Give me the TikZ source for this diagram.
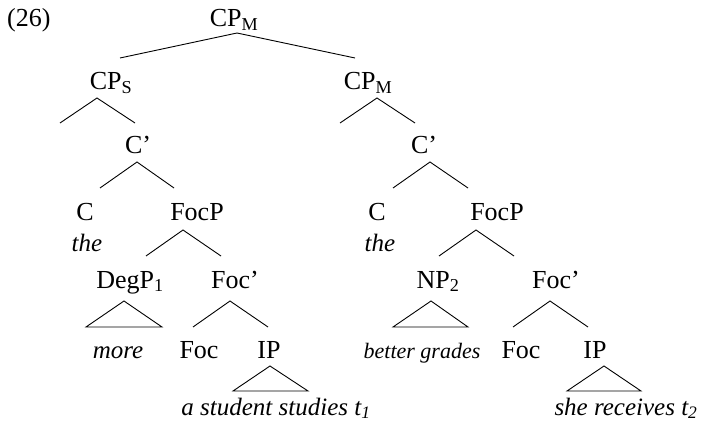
\documentclass[tikz,border=0pt]{standalone}
\usepackage{fontspec}
\setmainfont{Liberation Serif}
\tikzset{
  lbl/.style  ={inner sep=0pt, anchor=base, font=\fontsize{26}{31}\selectfont},
  leaf/.style ={lbl, font=\fontsize{25}{30}\selectfont\itshape},
  small/.style={lbl, font=\fontsize{22}{26}\selectfont\itshape},
  br/.style   ={line width=0.9pt},
}

\begin{document}
\begin{tikzpicture}[x=1pt, y=-1pt]
  \useasboundingbox (0,0) rectangle (703,430);
  % labels
  \node[lbl, anchor=base west] (ex) at (7,27) {(26)};
  \node[lbl] (cpm)  at (234,27) {CP\textsubscript{M}};
  \node[lbl] (cps)  at (111,90) {CP\textsubscript{S}};
  \node[lbl] (cpm2) at (368,90) {CP\textsubscript{M}};
  \node[lbl] (cb1)  at (138,154) {C'};
  \node[lbl] (cb2)  at (424,154) {C'};
  \node[lbl] (c1)   at (85,220) {C};
  \node[leaf] (the1) at (87,251) {the};
  \node[lbl] (focp1) at (197,220) {FocP};
  \node[lbl] (c2)   at (377,220) {C};
  \node[leaf] (the2) at (380,251) {the};
  \node[lbl] (focp2) at (497,220) {FocP};
  \node[lbl] (degp) at (130,288) {DegP\textsubscript{1}};
  \node[lbl] (fb1)  at (235,288) {Foc'};
  \node[lbl] (np)   at (438,288) {NP\textsubscript{2}};
  \node[lbl] (fb2)  at (556,288) {Foc'};
  \node[leaf] (more) at (118,358) {more};
  \node[lbl] (foc1) at (199,358) {Foc};
  \node[lbl] (ip1)  at (269,358) {IP};
  \node[small] (bg) at (422,358) {better grades};
  \node[lbl] (foc2) at (521,358) {Foc};
  \node[lbl] (ip2)  at (595,358) {IP};
  \node[leaf] (s1)  at (276,415) {a student studies t\textsubscript{1}};
  \node[leaf] (s2)  at (626,415) {she receives t\textsubscript{2}};
  % branches
  \draw[br] ([shift={(9,-32)}]cps.base) -- ([shift={(3,6)}]cpm.base) -- ([shift={(-13,-32)}]cpm2.base);
  \draw[br] ([shift={(-51,33)}]cps.base) -- ([shift={(-14,8)}]cps.base) -- ([shift={(-3,-31)}]cb1.base);
  \draw[br] ([shift={(-28,33)}]cpm2.base) -- ([shift={(9,8)}]cpm2.base) -- ([shift={(-9,-31)}]cb2.base);
  \draw[br] ([shift={(15,-32)}]c1.base) -- ([shift={(-1,8)}]cb1.base) -- ([shift={(-23,-32)}]focp1.base);
  \draw[br] ([shift={(16,-32)}]c2.base) -- ([shift={(6,8)}]cb2.base) -- ([shift={(-29,-32)}]focp2.base);
  \draw[br] ([shift={(16,-32)}]degp.base) -- ([shift={(-14,10)}]focp1.base) -- ([shift={(-14,-32)}]fb1.base);
  \draw[br] ([shift={(1,-32)}]np.base) -- ([shift={(-21,10)}]focp2.base) -- ([shift={(-42,-32)}]fb2.base);
  \draw[br] ([shift={(-6,-31)}]foc1.base) -- ([shift={(-5,13)}]fb1.base) -- ([shift={(-1,-31)}]ip1.base);
  \draw[br] ([shift={(-8,-31)}]foc2.base) -- ([shift={(-6,13)}]fb2.base) -- ([shift={(-7,-31)}]ip2.base);
  % triangles
  \draw[br] ([shift={(-6,13)}]degp.base) -- ++(-38,26) -- ++(76,0) -- cycle;
  \draw[br] ([shift={(-7,13)}]np.base) -- ++(-38,26) -- ++(75,0) -- cycle;
  \draw[br] ([shift={(1,8)}]ip1.base) -- ++(-37,25) -- ++(75,0) -- cycle;
  \draw[br] ([shift={(9,8)}]ip2.base) -- ++(-37,25) -- ++(74,0) -- cycle;
\end{tikzpicture}
\end{document}
